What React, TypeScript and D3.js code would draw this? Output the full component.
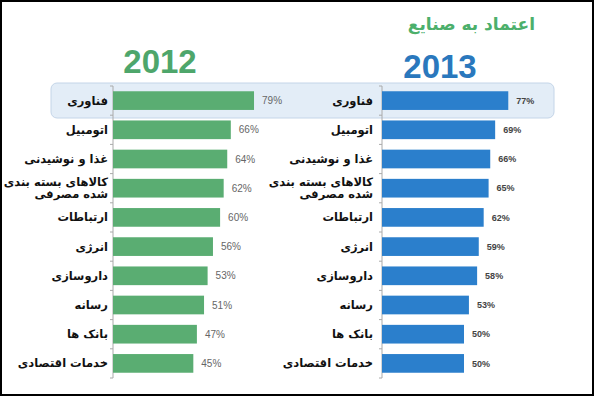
import React from 'react';
import * as d3 from 'd3';

const categories = [
  'فناوری',
  'اتومبیل',
  'غذا و نوشیدنی',
  'کالاهای بسته بندی|شده مصرفی',
  'ارتباطات',
  'انرژی',
  'داروسازی',
  'رسانه',
  'بانک ها',
  'خدمات اقتصادی',
];
const values2012 = [79, 66, 64, 62, 60, 56, 53, 51, 47, 45];
const values2013 = [77, 69, 66, 65, 62, 59, 58, 53, 50, 50];
const title = 'اعتماد به صنایع';

const W = 595;
const H = 397;

const y = d3.scaleBand<string>()
  .domain(categories)
  .range([86, 378])
  .paddingInner(0.36)
  .paddingOuter(0.18);

const panels = [
  { year: '2012', values: values2012, x0: 113, pxPer: 1.785, labelX: 108, color: '#5aad72', titleColor: '#4ea66b', titleX: 160, titleY: 73, pctColor: '#666', pctWeight: 'normal', pctSize: 10 },
  { year: '2013', values: values2013, x0: 382, pxPer: 1.64, labelX: 373, color: '#2b7fcc', titleColor: '#2a78bd', titleX: 440, titleY: 78, pctColor: '#444', pctWeight: 'bold', pctSize: 9 },
];

const labelFont = '"DejaVu Sans", sans-serif';

const Panel = ({ p }: { p: typeof panels[number] }) => {
  const x = d3.scaleLinear().domain([0, 100]).range([p.x0, p.x0 + 100 * p.pxPer]);
  const [r0, r1] = y.range();
  const step = y.step();
  const bounds = d3.range(categories.length + 1).map(i => r0 + i * step);
  return (
    <g>
      <text x={p.titleX} y={p.titleY} textAnchor="middle" fontFamily='"Liberation Sans", Arial, sans-serif'
        fontWeight="bold" fontSize={33} fill={p.titleColor}>{p.year}</text>
      <line x1={p.x0} x2={p.x0} y1={r0} y2={r1} stroke="#aaa" strokeWidth={1} />
      {bounds.map((b, i) => (
        <line key={i} x1={p.x0 - 3} x2={p.x0} y1={b} y2={b} stroke="#aaa" strokeWidth={1} />
      ))}
      {categories.map((c, i) => {
        const v = p.values[i];
        const top = y(c)!;
        const cy = top + y.bandwidth() / 2;
        const lines = c.split('|');
        return (
          <g key={c}>
            <rect x={x(0)} y={top} width={x(v) - x(0)} height={y.bandwidth()} fill={p.color} />
            <text x={x(v) + 8} y={cy} dy="0.35em" fontFamily='"Liberation Sans", Arial, sans-serif'
              fontSize={p.pctSize} fontWeight={p.pctWeight} fill={p.pctColor}>{v}%</text>
            {lines.map((l, j) => (
              <text key={j} x={p.labelX} y={cy + (j - (lines.length - 1) / 2) * 12.5} dy="0.35em"
                textAnchor="end" fontFamily={labelFont} fontWeight="bold" fontSize={11.5} fill="#111">{l}</text>
            ))}
          </g>
        );
      })}
    </g>
  );
};

export default function App() {
  return (
    <svg width={W} height={H} style={{ position: 'absolute', left: 0, top: 0 }}>
      <rect x={0} y={0} width={W} height={H} fill="#fff" />
      <rect x={51} y={83} width={503} height={35} rx={6} fill="#e3edf7" stroke="#c4d5e8" strokeWidth={1} />
      {panels.map(p => <Panel key={p.year} p={p} />)}
      <text x={535} y={30} textAnchor="end" fontFamily={labelFont} fontWeight="bold" fontSize={17} fill="#4caf6b">{title}</text>
      <rect x={1} y={1} width={592} height={394} fill="none" stroke="#000" strokeWidth={2} />
    </svg>
  );
}
